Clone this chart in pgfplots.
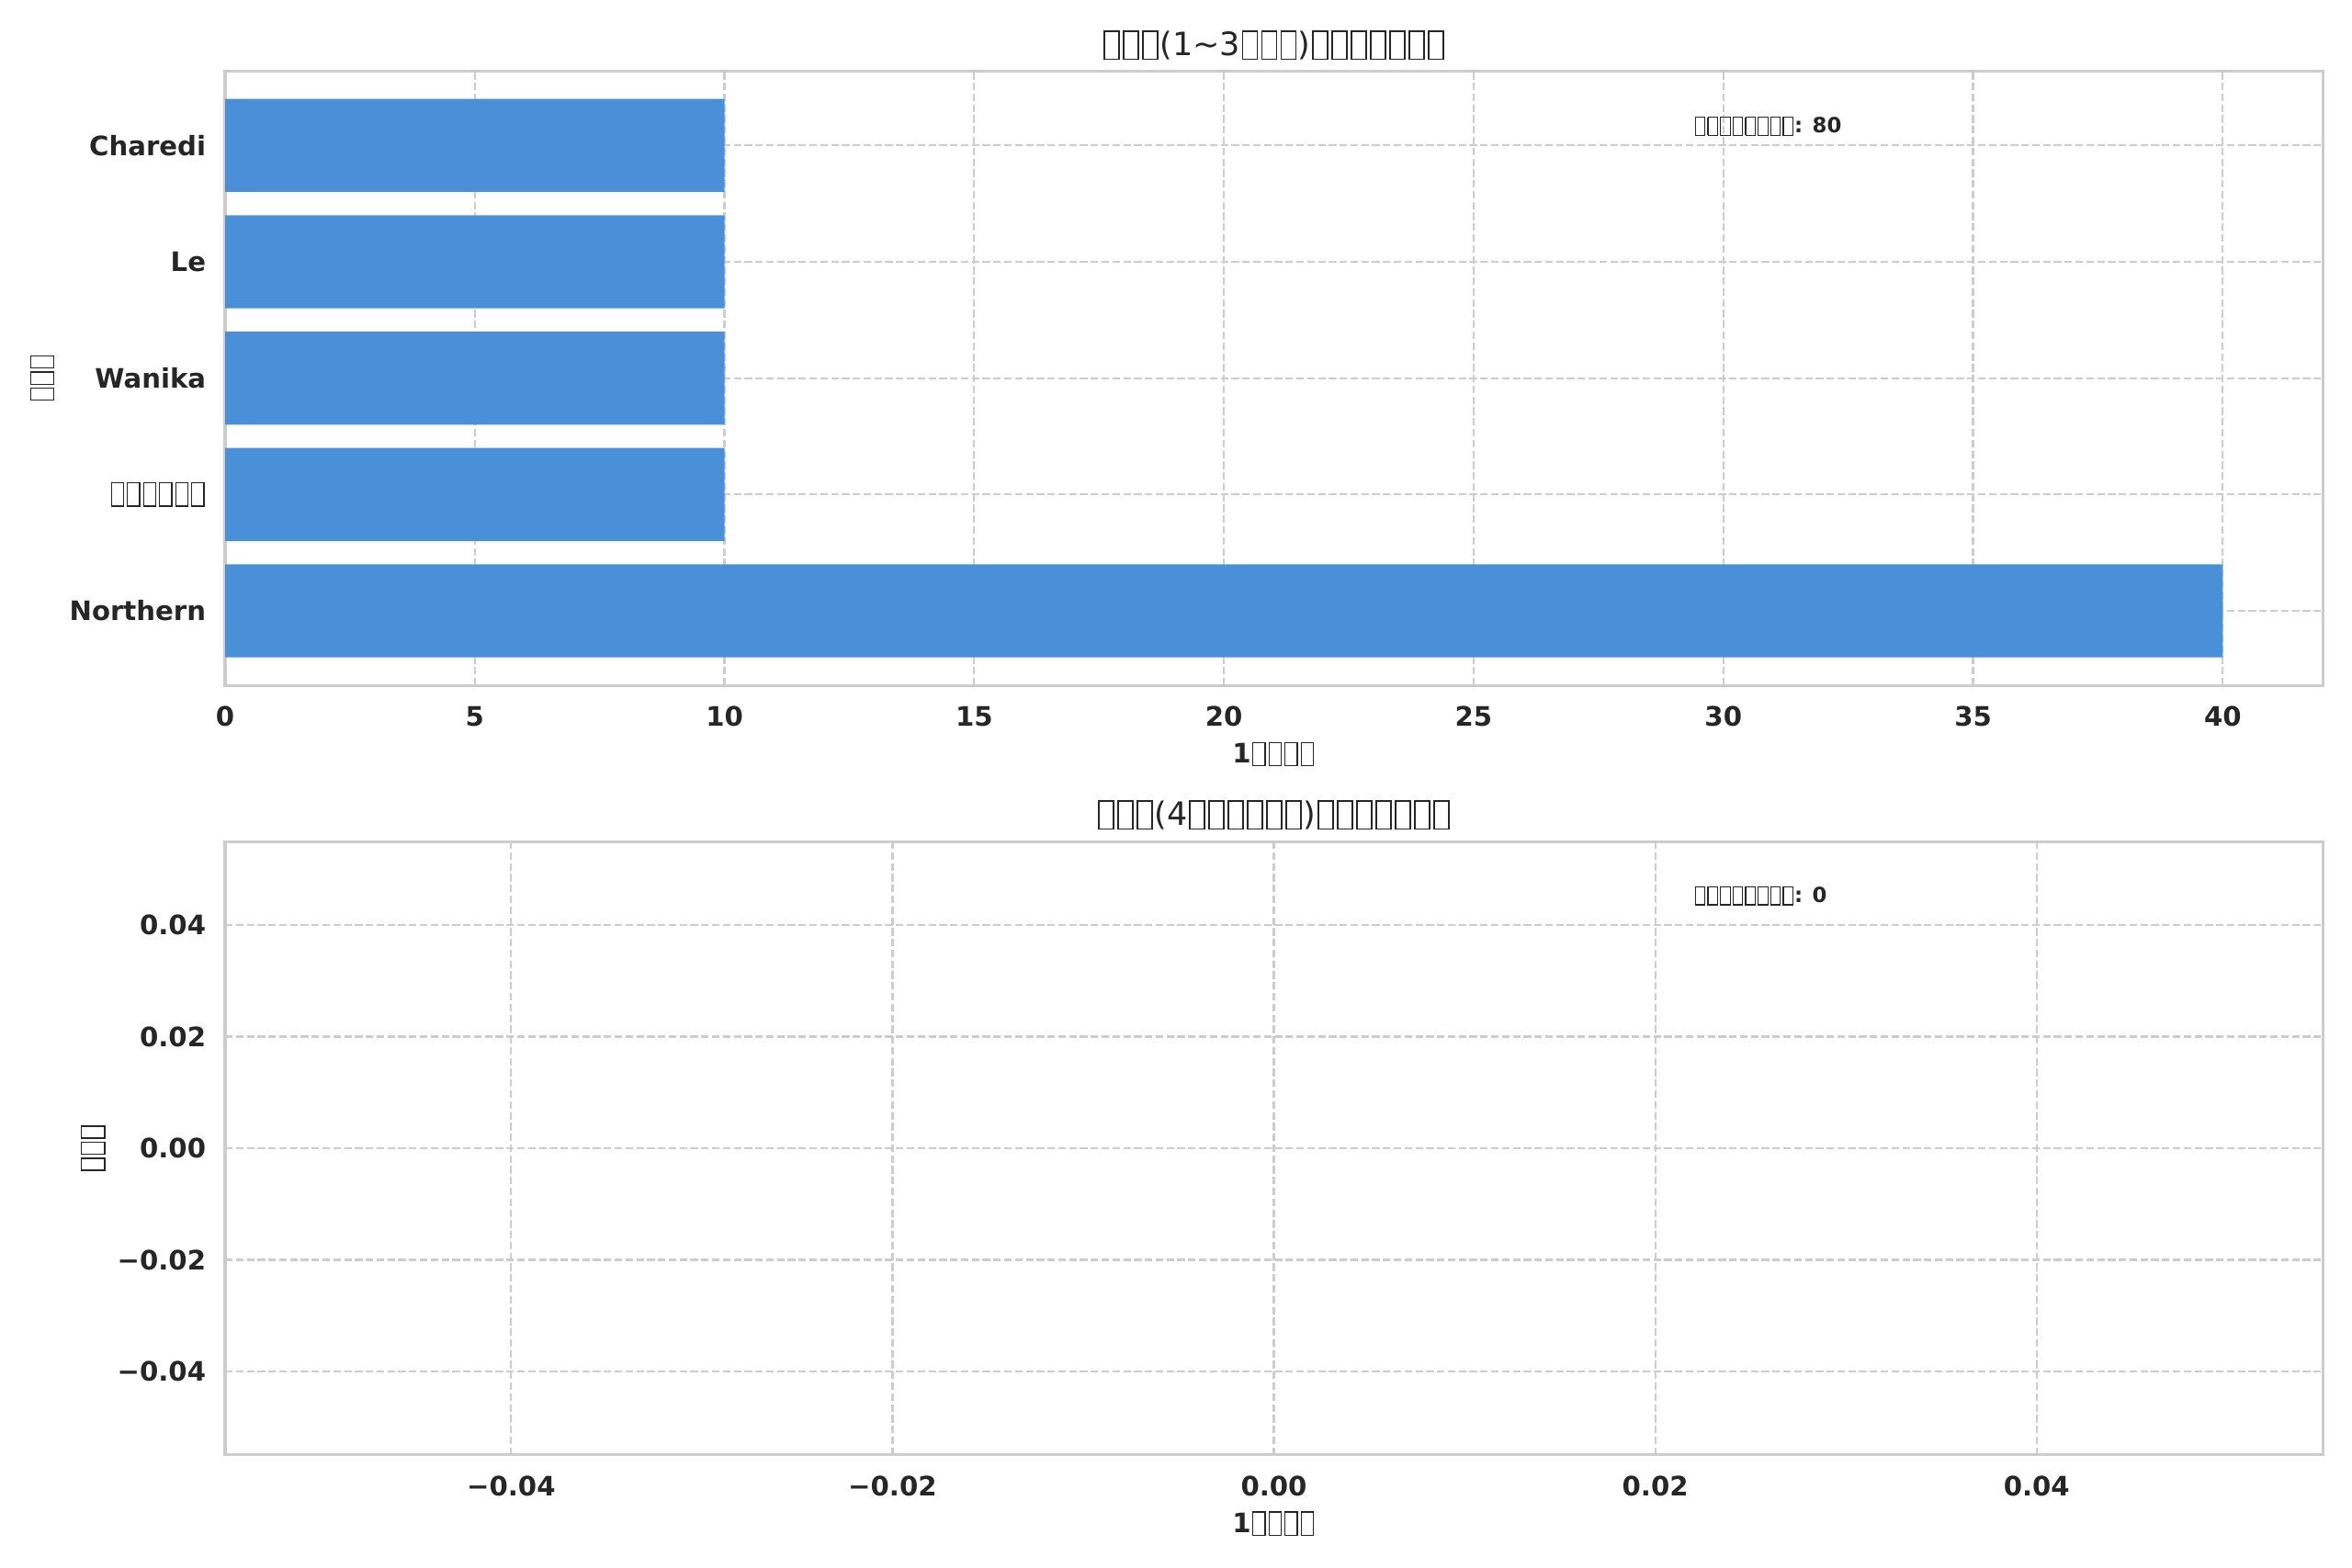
\documentclass[border=0pt]{standalone}
\usepackage{pgfplots}
\pgfplotsset{compat=1.18}
\usepackage{fontspec}
\setmainfont{DejaVu Sans}
\definecolor{barblue}{HTML}{4A90D9}
\definecolor{txt}{HTML}{262626}
\definecolor{gridc}{HTML}{CCCCCC}
% missing-glyph box, as drawn in the reference
\newcommand{\tf}{\kern0.05em\lower0.135em\vbox{\hrule height.045em\hbox{\vrule width.045em\vbox to .825em{\vfil}\kern.41em\vrule width.045em}\hrule height.045em}\kern0.05em}
\pgfplotsset{
  common/.style={
    scale only axis, width=821.9pt, anchor=south west,
    axis line style={draw=gridc, line width=1.1pt},
    grid=major,
    major grid style={draw=gridc, line width=0.8pt, dash pattern=on 2.96pt off 1.28pt},
    major tick length=0pt,
    scaled ticks=false,
    tick label style={font=\fontsize{10.5}{12}\selectfont\bfseries, text=txt},
    /pgf/number format/assume math mode=true,
    every axis title shift=0pt,
    title style={font=\fontsize{12.6}{15}\selectfont, text=txt, anchor=center},
    xlabel style={font=\fontsize{10.5}{12}\selectfont\bfseries, text=txt, at={(axis description cs:0.5,-0.1121)}, anchor=center},
    ylabel style={font=\fontsize{10.5}{12}\selectfont\bfseries, text=txt, anchor=center},
    xticklabel style={yshift=-4.8pt},
    yticklabel style={xshift=-4pt},
  }
}
\begin{document}
\begin{tikzpicture}
\path[use as bounding box] (0,0) rectangle (921.6pt,614.5pt);
\begin{axis}[common,
  at={(88.2pt,345.9pt)}, height=240.8pt,
  xmin=0, xmax=42, ymin=-0.64, ymax=4.64,
  xtick={0,5,...,40},
  ytick={0,1,2,3,4},
  yticklabels={Northern,\tf\tf\tf\tf\tf\tf,Wanika,Le,Charedi},
  title={\tf\tf\tf(1\textasciitilde3\tf\tf\tf)\tf\tf\tf\tf\tf\tf\tf},
  title style={at={(axis description cs:0.5,1.0415)}},
  xlabel={1\tf\tf\tf\tf},
  ylabel={\tf\tf\tf},
  ylabel style={at={(axis description cs:-0.0871,0.5)}},
]
\addplot[xbar, fill=barblue, draw=none, bar width=0.8] coordinates {(40,0) (10,1) (10,2) (10,3) (10,4)};
\node[anchor=west, inner sep=0pt, font=\fontsize{8.2}{10}\selectfont\bfseries, text=txt] at (axis description cs:0.7,0.91) {\tf\tf\tf\tf\tf\tf\tf\tf: 80};
\end{axis}
\begin{axis}[common,
  at={(88.2pt,44.3pt)}, height=240.4pt,
  xmin=-0.055, xmax=0.055, ymin=-0.055, ymax=0.055,
  xtick={-0.04,-0.02,0,0.02,0.04},
  xticklabels={−0.04,−0.02,0.00,0.02,0.04},
  ytick={-0.04,-0.02,0,0.02,0.04},
  yticklabels={−0.04,−0.02,0.00,0.02,0.04},
  title={\tf\tf\tf(4\tf\tf\tf\tf\tf\tf)\tf\tf\tf\tf\tf\tf\tf},
  title style={at={(axis description cs:0.5,1.043)}},
  xlabel={1\tf\tf\tf\tf},
  ylabel={\tf\tf\tf},
  ylabel style={at={(axis description cs:-0.063,0.5)}},
]
\node[anchor=west, inner sep=0pt, font=\fontsize{8.2}{10}\selectfont\bfseries, text=txt] at (axis description cs:0.7,0.9117) {\tf\tf\tf\tf\tf\tf\tf\tf: 0};
\end{axis}
\end{tikzpicture}
\end{document}
